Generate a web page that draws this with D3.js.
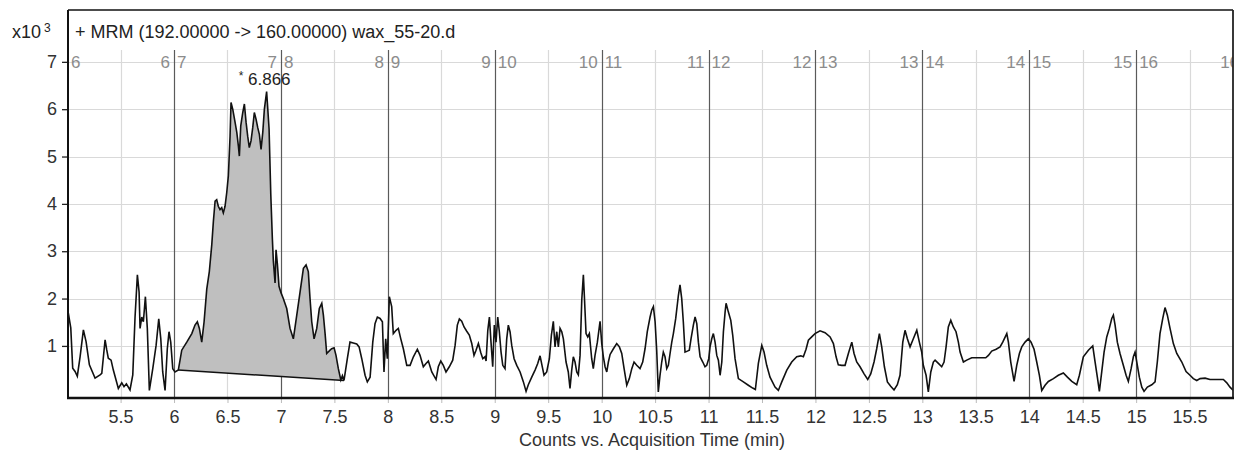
<!DOCTYPE html>
<html>
<head>
<meta charset="utf-8">
<script src="https://cdn.jsdelivr.net/npm/d3@7"></script>
<style>
  body { margin: 0; background: #fff; }
  svg { display: block; font-family: 'Liberation Sans', Arial, sans-serif; }
</style>
</head>
<body>
<div id="chart"></div>
<script>
// acquisition time (min) and counts
const times = [
  5.011, 5.034, 5.052, 5.074, 5.095, 5.121, 5.152, 5.177, 5.208, 5.261, 5.308, 5.324, 5.355, 5.370, 5.385, 5.411,
  5.432, 5.479, 5.511, 5.532, 5.554, 5.588, 5.614, 5.635, 5.657, 5.673, 5.682, 5.698, 5.713, 5.732, 5.750, 5.769,
  5.801, 5.832, 5.857, 5.876, 5.894, 5.916, 5.937, 5.953, 5.969, 5.988, 6.009, 6.040, 6.072, 6.119, 6.166, 6.196,
  6.218, 6.237, 6.259, 6.281, 6.306, 6.330, 6.353, 6.368, 6.384, 6.399, 6.414, 6.430, 6.446, 6.461, 6.477, 6.493,
  6.508, 6.524, 6.533, 6.549, 6.571, 6.587, 6.602, 6.611, 6.624, 6.643, 6.658, 6.674, 6.689, 6.704, 6.720, 6.736,
  6.751, 6.767, 6.783, 6.798, 6.814, 6.830, 6.845, 6.866, 6.877, 6.889, 6.905, 6.920, 6.929, 6.945, 6.954, 6.966,
  6.982, 7.001, 7.022, 7.054, 7.085, 7.116, 7.148, 7.179, 7.210, 7.235, 7.256, 7.272, 7.288, 7.310, 7.335, 7.359,
  7.382, 7.397, 7.413, 7.428, 7.459, 7.475, 7.497, 7.515, 7.537, 7.560, 7.575, 7.590, 7.621, 7.646, 7.677, 7.709,
  7.731, 7.756, 7.787, 7.808, 7.834, 7.859, 7.880, 7.902, 7.927, 7.949, 7.964, 7.980, 7.995, 8.014, 8.036, 8.051,
  8.077, 8.098, 8.121, 8.145, 8.177, 8.208, 8.239, 8.276, 8.301, 8.332, 8.357, 8.379, 8.411, 8.451, 8.472, 8.495,
  8.519, 8.544, 8.575, 8.607, 8.629, 8.650, 8.669, 8.691, 8.713, 8.738, 8.762, 8.785, 8.806, 8.825, 8.847, 8.869,
  8.888, 8.909, 8.919, 8.935, 8.950, 8.965, 8.981, 8.996, 9.012, 9.028, 9.043, 9.059, 9.075, 9.096, 9.112, 9.127,
  9.143, 9.159, 9.181, 9.206, 9.237, 9.268, 9.293, 9.314, 9.346, 9.377, 9.402, 9.424, 9.442, 9.461, 9.486, 9.511,
  9.530, 9.548, 9.564, 9.580, 9.595, 9.611, 9.627, 9.642, 9.667, 9.688, 9.704, 9.720, 9.735, 9.751, 9.767, 9.782,
  9.798, 9.814, 9.829, 9.838, 9.854, 9.870, 9.885, 9.907, 9.922, 9.938, 9.960, 9.985, 10.001, 10.016, 10.032, 10.048,
  10.063, 10.079, 10.110, 10.141, 10.166, 10.188, 10.210, 10.235, 10.259, 10.282, 10.303, 10.328, 10.359, 10.384, 10.406, 10.427,
  10.453, 10.469, 10.484, 10.500, 10.515, 10.530, 10.546, 10.562, 10.577, 10.593, 10.609, 10.624, 10.640, 10.656, 10.671, 10.693,
  10.718, 10.733, 10.749, 10.764, 10.780, 10.802, 10.820, 10.836, 10.858, 10.874, 10.890, 10.905, 10.921, 10.946, 10.967, 10.983,
  11.002, 11.014, 11.030, 11.045, 11.061, 11.077, 11.092, 11.108, 11.124, 11.139, 11.155, 11.164, 11.185, 11.208, 11.226, 11.248,
  11.279, 11.326, 11.372, 11.413, 11.438, 11.466, 11.498, 11.519, 11.544, 11.575, 11.622, 11.653, 11.685, 11.732, 11.778, 11.825,
  11.863, 11.887, 11.912, 11.934, 11.965, 11.996, 12.043, 12.090, 12.137, 12.168, 12.193, 12.214, 12.246, 12.277, 12.308, 12.340,
  12.361, 12.386, 12.417, 12.455, 12.489, 12.517, 12.548, 12.573, 12.598, 12.620, 12.645, 12.673, 12.704, 12.735, 12.766, 12.791,
  12.817, 12.838, 12.860, 12.885, 12.910, 12.948, 12.972, 12.994, 13.009, 13.035, 13.056, 13.079, 13.103, 13.119, 13.150, 13.181,
  13.203, 13.222, 13.243, 13.266, 13.290, 13.315, 13.337, 13.353, 13.384, 13.415, 13.462, 13.509, 13.556, 13.593, 13.618, 13.649,
  13.690, 13.727, 13.752, 13.790, 13.805, 13.827, 13.858, 13.883, 13.908, 13.930, 13.961, 13.992, 14.017, 14.045, 14.070, 14.095,
  14.117, 14.148, 14.179, 14.226, 14.272, 14.319, 14.357, 14.398, 14.444, 14.469, 14.506, 14.553, 14.594, 14.616, 14.637, 14.656,
  14.678, 14.700, 14.725, 14.749, 14.772, 14.787, 14.803, 14.824, 14.849, 14.880, 14.906, 14.927, 14.953, 14.974, 14.990, 15.006,
  15.030, 15.053, 15.074, 15.105, 15.146, 15.177, 15.198, 15.223, 15.249, 15.270, 15.292, 15.317, 15.348, 15.380, 15.427, 15.467,
  15.504, 15.535, 15.567, 15.598, 15.645, 15.691, 15.754, 15.816, 15.848, 15.878, 15.909
];

const counts = [
  1690, 1380, 530, 460, 360, 770, 1340, 1090, 600, 320, 390, 420, 1130, 920, 740, 700,
  490, 100, 220, 140, 200, 70, 390, 1600, 2500, 2140, 1370, 1610, 1510, 2040, 1370, 60,
  520, 1010, 1570, 1150, 450, 60, 940, 1300, 1080, 520, 450, 490, 910, 1080, 1260, 1440,
  1510, 1370, 1080, 1510, 2200, 2570, 3140, 3630, 4060, 4090, 3950, 3880, 3920, 3810, 3950, 4240,
  4590, 5430, 6140, 6000, 5720, 5510, 5220, 5010, 5650, 5930, 6110, 5720, 5430, 5190, 5330, 5610,
  5930, 5790, 5610, 5470, 5150, 5510, 6000, 6370, 6000, 5580, 4200, 3250, 2790, 2330, 3030, 2750,
  2260, 2120, 2000, 1790, 1370, 1150, 1650, 2140, 2640, 2710, 2570, 2000, 1510, 1150, 1370, 1790,
  1900, 1650, 1260, 840, 910, 940, 960, 800, 520, 280, 370, 270, 730, 1080, 1060, 1040,
  980, 730, 380, 240, 340, 1080, 1470, 1610, 1580, 1510, 450, 1150, 730, 2040, 1830, 1260,
  1330, 1370, 1150, 940, 590, 590, 770, 930, 800, 560, 630, 680, 450, 290, 560, 680,
  590, 450, 560, 700, 1010, 1440, 1570, 1520, 1400, 1310, 1230, 1050, 800, 910, 1050, 860,
  730, 770, 680, 1330, 1610, 1080, 560, 1440, 1080, 1610, 1300, 870, 590, 520, 1150, 1440,
  1300, 1010, 730, 590, 450, 240, 40, 180, 340, 490, 630, 790, 590, 380, 450, 730,
  1230, 1520, 980, 1300, 980, 1370, 1300, 1150, 660, 450, 100, 490, 770, 660, 450, 390,
  800, 1970, 2500, 2070, 1260, 1190, 1260, 730, 520, 800, 1080, 1520, 1050, 770, 560, 450,
  660, 820, 940, 1050, 980, 840, 520, 170, 310, 520, 660, 590, 520, 660, 940, 1300,
  1610, 1760, 1830, 1510, 910, 30, 380, 660, 870, 770, 520, 590, 840, 1080, 1260, 1580,
  2070, 2290, 2000, 1510, 870, 890, 910, 1150, 1440, 1610, 1470, 1080, 770, 660, 560, 590,
  730, 980, 1150, 1260, 1080, 800, 700, 380, 660, 1300, 1720, 1900, 1720, 1540, 1230, 730,
  310, 240, 170, 110, 80, 630, 1010, 870, 590, 340, 130, 60, 240, 490, 660, 770,
  790, 770, 930, 1120, 1190, 1260, 1320, 1280, 1190, 1050, 770, 600, 590, 590, 840, 1080,
  840, 660, 560, 410, 290, 410, 660, 940, 1260, 980, 560, 240, 150, 70, 180, 380,
  1080, 1330, 1150, 980, 1120, 1330, 1080, 870, 590, 380, 30, 450, 660, 700, 630, 560,
  660, 980, 1400, 1540, 1400, 1300, 1080, 870, 660, 700, 750, 750, 750, 750, 800, 890,
  930, 980, 1080, 1260, 1080, 660, 250, 590, 840, 980, 1080, 1150, 1080, 930, 660, 380,
  60, 170, 250, 310, 380, 430, 340, 250, 180, 380, 770, 910, 1000, 660, 340, 40,
  450, 870, 1190, 1370, 1580, 1650, 1440, 1080, 840, 590, 380, 250, 520, 770, 870, 660,
  340, 130, 40, 130, 180, 240, 660, 1260, 1580, 1810, 1650, 1370, 1050, 840, 660, 460,
  380, 310, 270, 310, 320, 290, 290, 290, 220, 130, 60
];

// integrated peak
const peakStart = 6.040;
const peakEnd = 7.590;
const peakApex = 6.866;

// scan segment boundaries (min) and the segment numbers either side
const segmentBoundaries = [6, 7, 8, 9, 10, 11, 12, 13, 14, 15, 16];
const yTicks = [1000, 2000, 3000, 4000, 5000, 6000, 7000];
const xTicks = d3.range(5.5, 15.9, 0.5);

const titleText = '+ MRM (192.00000 -> 160.00000) wax_55-20.d';
const xAxisLabel = 'Counts vs. Acquisition Time (min)';

const width = 1238;
const height = 452;
const plot = { left: 68, right: 1233, frameTop: 10, top: 50, bottom: 398 };

const data = times.map((t, i) => ({ t, c: counts[i] }));

const svg = d3.select('#chart').append('svg')
  .attr('width', width)
  .attr('height', height);

const xScale = d3.scaleLinear()
  .domain([5.008, 15.906])
  .range([plot.left, plot.right]);

const yScale = d3.scaleLinear()
  .domain([-100, 7250])
  .range([plot.bottom, plot.top]);

svg.append('clipPath')
  .attr('id', 'plotClip')
  .append('rect')
  .attr('x', plot.left)
  .attr('y', plot.frameTop)
  .attr('width', plot.right - plot.left)
  .attr('height', plot.bottom - plot.frameTop);

// horizontal grid
svg.append('g')
  .selectAll('line')
  .data(yTicks)
  .join('line')
  .attr('x1', plot.left)
  .attr('x2', plot.right)
  .attr('y1', d => Math.round(yScale(d)) + 0.5)
  .attr('y2', d => Math.round(yScale(d)) + 0.5)
  .style('stroke', '#d9d9d9')
  .style('stroke-width', 1.2);

// light vertical grid at half minutes
svg.append('g')
  .selectAll('line')
  .data(xTicks.filter(d => d % 1 !== 0))
  .join('line')
  .attr('x1', d => Math.round(xScale(d)) + 0.5)
  .attr('x2', d => Math.round(xScale(d)) + 0.5)
  .attr('y1', plot.top)
  .attr('y2', plot.bottom)
  .style('stroke', '#d9d9d9')
  .style('stroke-width', 1.2);

// segment boundary lines
const segGroup = svg.append('g').attr('clip-path', 'url(#plotClip)');

segGroup.selectAll('line')
  .data(segmentBoundaries)
  .join('line')
  .attr('x1', d => Math.round(xScale(d)) + 0.5)
  .attr('x2', d => Math.round(xScale(d)) + 0.5)
  .attr('y1', plot.top)
  .attr('y2', plot.bottom)
  .style('stroke', '#5a5a5a')
  .style('stroke-width', 1.2);

// segment numbers: the segment ending at a boundary on its left, the next one on its right
const segLabelY = yScale(7000) + 6;
segGroup.selectAll('text.segLeft')
  .data(segmentBoundaries)
  .join('text')
  .attr('class', 'segLeft')
  .attr('x', d => xScale(d) - 4)
  .attr('y', segLabelY)
  .attr('text-anchor', 'end')
  .style('font-size', '17px')
  .style('fill', '#8c8c8c')
  .text(d => d);

segGroup.selectAll('text.segRight')
  .data([5].concat(segmentBoundaries.slice(0, -1)))
  .join('text')
  .attr('class', 'segRight')
  .attr('x', d => (d === 5 ? plot.left : xScale(d)) + 3)
  .attr('y', segLabelY)
  .style('font-size', '17px')
  .style('fill', '#8c8c8c')
  .text(d => d + 1);

// integrated peak area
const peakData = data.filter(d => d.t >= peakStart && d.t <= peakEnd);
const p0 = peakData[0];
const p1 = peakData[peakData.length - 1];
const baseline = t => p0.c + (p1.c - p0.c) * (t - p0.t) / (p1.t - p0.t);

const area = d3.area()
  .x(d => xScale(d.t))
  .y0(d => yScale(baseline(d.t)))
  .y1(d => yScale(d.c));

const traceGroup = svg.append('g').attr('clip-path', 'url(#plotClip)');

traceGroup.append('path')
  .datum(peakData)
  .attr('d', area)
  .style('fill', '#bfbfbf')
  .style('stroke', 'none');

traceGroup.append('line')
  .attr('x1', xScale(p0.t))
  .attr('y1', yScale(p0.c))
  .attr('x2', xScale(p1.t))
  .attr('y2', yScale(p1.c))
  .style('stroke', '#111')
  .style('stroke-width', 1.6);

const line = d3.line()
  .x(d => xScale(d.t))
  .y(d => yScale(d.c));

traceGroup.append('path')
  .datum(data)
  .attr('d', line)
  .style('fill', 'none')
  .style('stroke', '#111')
  .style('stroke-width', 1.6)
  .style('stroke-linejoin', 'miter');

// apex label
const apex = data.find(d => d.t === peakApex);
const apexLabel = svg.append('text')
  .attr('x', xScale(apex.t) - 2)
  .attr('y', yScale(apex.c) - 7)
  .attr('text-anchor', 'middle')
  .style('font-size', '17px')
  .style('fill', '#222');
apexLabel.append('tspan')
  .style('font-size', '12px')
  .attr('dy', -5)
  .text('*');
apexLabel.append('tspan')
  .attr('dy', 5)
  .text(' ' + peakApex.toFixed(3));

// y axis
const yAxis = d3.axisLeft(yScale)
  .tickValues(yTicks)
  .tickSize(6)
  .tickPadding(5)
  .tickFormat(d => d / 1000);

const yAxisG = svg.append('g')
  .attr('transform', `translate(${plot.left},0)`)
  .call(yAxis);

yAxisG.select('.domain').remove();
yAxisG.selectAll('.tick line').style('stroke', '#222').style('stroke-width', 1.3);
yAxisG.selectAll('.tick text')
  .style('font-size', '18px')
  .style('fill', '#333')
  .style('font-family', "'Liberation Sans', Arial, sans-serif");

// x axis
const xAxis = d3.axisBottom(xScale)
  .tickValues(xTicks)
  .tickSize(5)
  .tickPadding(7)
  .tickFormat(d => d3.format('~g')(d));

const xAxisG = svg.append('g')
  .attr('transform', `translate(0,${plot.bottom})`)
  .call(xAxis);

xAxisG.select('.domain').remove();
xAxisG.selectAll('.tick line').style('stroke', '#bbb');
xAxisG.selectAll('.tick text')
  .style('font-size', '18px')
  .style('fill', '#333')
  .style('font-family', "'Liberation Sans', Arial, sans-serif");

// frame
const frame = svg.append('g');
frame.append('line')
  .attr('x1', plot.left).attr('x2', plot.right)
  .attr('y1', plot.frameTop).attr('y2', plot.frameTop)
  .style('stroke', '#111').style('stroke-width', 1.3);
frame.append('line')
  .attr('x1', plot.right).attr('x2', plot.right)
  .attr('y1', plot.frameTop).attr('y2', plot.bottom)
  .style('stroke', '#222').style('stroke-width', 1.8);
frame.append('line')
  .attr('x1', plot.left).attr('x2', plot.left)
  .attr('y1', plot.frameTop).attr('y2', plot.bottom + 1)
  .style('stroke', '#111').style('stroke-width', 2);
frame.append('line')
  .attr('x1', plot.left - 1).attr('x2', plot.right + 1)
  .attr('y1', plot.bottom).attr('y2', plot.bottom)
  .style('stroke', '#111').style('stroke-width', 2.6);

// title and exponent
svg.append('text')
  .attr('x', 75)
  .attr('y', 38)
  .style('font-size', '18px')
  .style('fill', '#222')
  .text(titleText);

const expLabel = svg.append('text')
  .attr('x', 12)
  .attr('y', 38)
  .style('font-size', '18px')
  .style('fill', '#222');
expLabel.append('tspan').text('x10');
expLabel.append('tspan')
  .attr('dx', 3)
  .attr('dy', -6)
  .style('font-size', '12px')
  .text('3');

// x axis title
svg.append('text')
  .attr('x', 652)
  .attr('y', 446)
  .attr('text-anchor', 'middle')
  .style('font-size', '18px')
  .style('fill', '#333')
  .text(xAxisLabel);
</script>
</body>
</html>
